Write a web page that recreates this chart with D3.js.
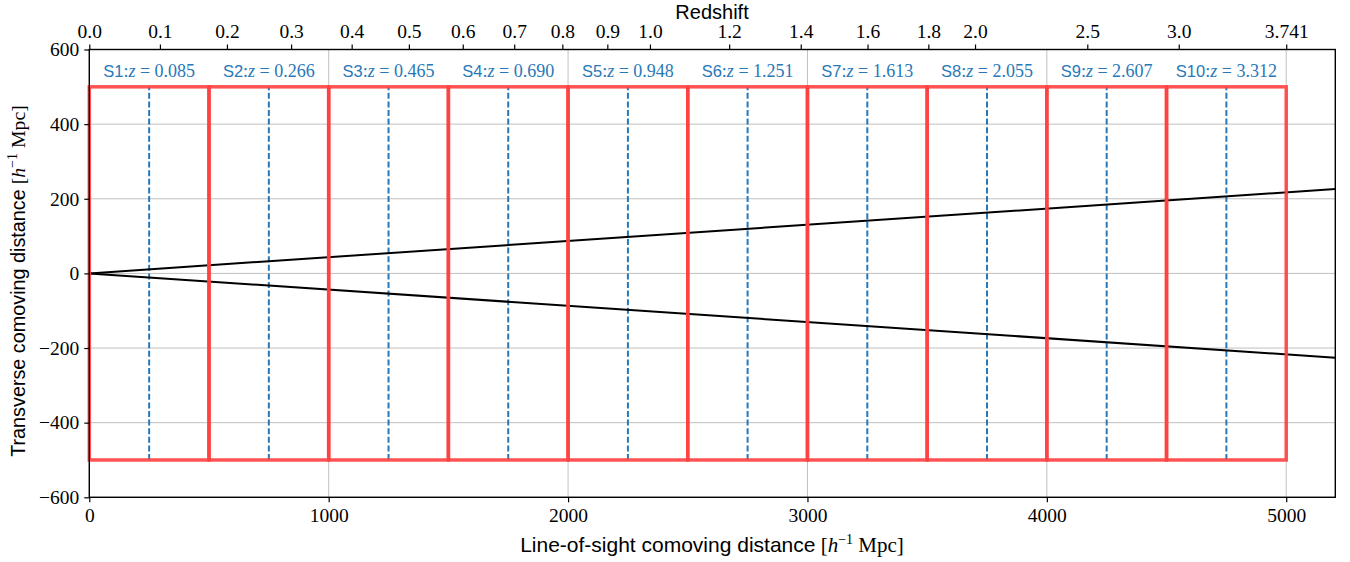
<!DOCTYPE html>
<html><head><meta charset="utf-8">
<script src="https://cdn.jsdelivr.net/npm/d3@7"></script>
<style>
body{margin:0;background:#fff;}
svg{display:block;}
</style></head>
<body><svg id="c" width="1350" height="562"></svg>
<script>
// ---- data ----
const slabNames = ["S1","S2","S3","S4","S5","S6","S7","S8","S9","S10"];
const slabStart = [0,500,1000,1500,2000,2500,3000,3500,4000,4500];
const slabEnd   = [500,1000,1500,2000,2500,3000,3500,4000,4500,5000];
const slabCenter = [250,750,1250,1750,2250,2750,3250,3750,4250,4750];
const slabRedshift = ["0.085","0.266","0.465","0.690","0.948","1.251","1.613","2.055","2.607","3.312"];
const slabTransverse = [-500, 500];
const coneX = [0, 5205];
const coneUpper = [0, 226];
const coneLower = [0, -226];
const xTicks = [0,1000,2000,3000,4000,5000];
const yTicks = [-600,-400,-200,0,200,400,600];
const zTickLabels = ["0.0","0.1","0.2","0.3","0.4","0.5","0.6","0.7","0.8","0.9","1.0","1.2","1.4","1.6","1.8","2.0","2.5","3.0","3.741"];
const zTickDist = [0,295,575,843,1096,1335,1560,1775,1976,2164,2342,2673,2972,3251,3505,3700,4169,4551,5000];

// ---- layout ----
const L=89.3, R=1335.3, T=49.5, B=497.3;
const svg=d3.select("#c");
const x=d3.scaleLinear().domain([0,5205]).range([L,R]);
const y=d3.scaleLinear().domain([-600,600]).range([B,T]);
const serif='"Liberation Serif",serif', sans='"Liberation Sans",sans-serif';

// grid
const g=svg.append("g");
g.selectAll(".vg").data(xTicks).join("line").attr("x1",d=>x(d)).attr("x2",d=>x(d)).attr("y1",T).attr("y2",B).attr("stroke","#c0c0c0").attr("stroke-width",1);
g.selectAll(".hg").data(yTicks).join("line").attr("y1",d=>y(d)).attr("y2",d=>y(d)).attr("x1",L).attr("x2",R).attr("stroke","#c0c0c0").attr("stroke-width",1);

// dashed centers
svg.selectAll(".dl").data(slabCenter).join("line")
 .attr("x1",d=>x(d)).attr("x2",d=>x(d)).attr("y1",y(slabTransverse[0])).attr("y2",y(slabTransverse[1]))
 .attr("stroke","#2878b8").attr("stroke-width",2).attr("stroke-dasharray","6,2.6");

// cone lines
const line=d3.line().x(d=>x(d[0])).y(d=>y(d[1]));
[coneUpper,coneLower].forEach(arr=>{
  svg.append("path").datum(coneX.map((v,i)=>[v,arr[i]])).attr("d",line).attr("fill","none").attr("stroke","#000").attr("stroke-width",2);
});

// red boxes
svg.selectAll(".bx").data(slabStart).join("rect")
 .attr("x",(d)=>x(d)).attr("width",(d,i)=>x(slabEnd[i])-x(d))
 .attr("y",y(slabTransverse[1])).attr("height",y(slabTransverse[0])-y(slabTransverse[1]))
 .attr("fill","none").attr("stroke","#ff4040").attr("stroke-opacity",0.9).attr("stroke-width",3.5);

// slab labels
slabNames.forEach((n,i)=>{
  const t=svg.append("text").attr("x",x(slabCenter[i])).attr("y",77).attr("text-anchor","middle").attr("fill","#2878b8").attr("font-size",18);
  t.append("tspan").attr("font-family",sans).attr("font-size",16.5).text(n);
  t.append("tspan").attr("font-family",serif).text(":");
  t.append("tspan").attr("font-family",serif).attr("font-style","italic").text("z");
  t.append("tspan").attr("font-family",serif).text(" = "+slabRedshift[i]);
});

// frame
svg.append("rect").attr("x",L).attr("y",T).attr("width",R-L).attr("height",B-T).attr("fill","none").attr("stroke","#000").attr("stroke-width",1.4);

// axes
const fmt=d=>d<0?"\u2212"+Math.abs(d):String(d);
const ax=svg.append("g").attr("transform",`translate(0,${B})`).call(d3.axisBottom(x).tickValues(xTicks).tickSize(5).tickPadding(6).tickFormat(fmt));
const ay=svg.append("g").attr("transform",`translate(${L},0)`).call(d3.axisLeft(y).tickValues(yTicks).tickSize(5).tickPadding(5).tickFormat(fmt));
const az=svg.append("g").attr("transform",`translate(0,${T})`).call(d3.axisTop(x).tickValues(zTickDist).tickSize(5).tickPadding(7).tickFormat((d,i)=>zTickLabels[i]));
[ax,ay,az].forEach(a=>{a.select(".domain").remove();a.selectAll(".tick text").attr("font-size",19.5).attr("fill","#000").attr("font-family",serif);a.selectAll(".tick line").attr("stroke","#000").attr("stroke-width",1.2);});

// titles
function unitLabel(t){
  t.append("tspan").attr("font-family",serif).text(" [");
  t.append("tspan").attr("font-family",serif).attr("font-style","italic").text("h");
  t.append("tspan").attr("font-family",serif).attr("font-size",14).attr("dy",-8).text("\u22121");
  t.append("tspan").attr("font-family",serif).attr("dy",8).text(" Mpc]");
}
const xt=svg.append("text").attr("x",712).attr("y",552).attr("text-anchor","middle").attr("font-size",21).attr("fill","#000");
xt.append("tspan").attr("font-family",sans).text("Line-of-sight comoving distance");
unitLabel(xt);
const yt=svg.append("text").attr("transform","translate(25,281) rotate(-90)").attr("text-anchor","middle").attr("font-size",19.8).attr("fill","#000");
yt.append("tspan").attr("font-family",sans).text("Transverse comoving distance");
unitLabel(yt);
svg.append("text").attr("x",712).attr("y",19).attr("text-anchor","middle").attr("font-family",sans).attr("font-size",20).attr("fill","#000").text("Redshift");
</script></body></html>
